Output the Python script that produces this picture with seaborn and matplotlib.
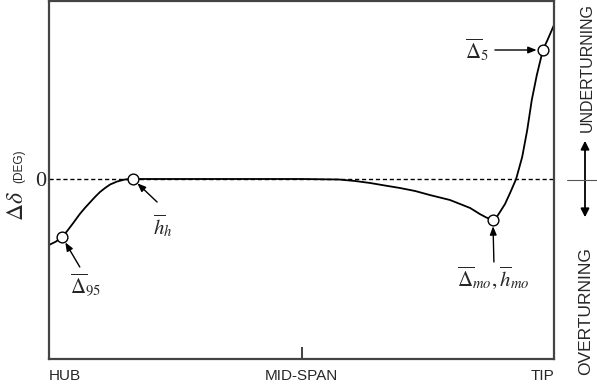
import numpy as np
import pandas as pd
import matplotlib
matplotlib.use("Agg")
import matplotlib.pyplot as plt
import seaborn as sns
from matplotlib.patches import FancyArrowPatch
from matplotlib.lines import Line2D

# span position (0 = hub, 1 = tip) and deviation delta (deg, schematic)
span = [0.000, 0.014, 0.026, 0.036, 0.048, 0.061, 0.071, 0.081, 0.091, 0.101, 0.111,
        0.121, 0.135, 0.150, 0.166, 0.300, 0.500, 0.574, 0.606, 0.636, 0.665, 0.695,
        0.725, 0.754, 0.794, 0.814, 0.834, 0.853, 0.866, 0.879, 0.886, 0.893, 0.903,
        0.913, 0.925, 0.937, 0.947, 0.956, 0.966, 0.978, 0.988, 1.000]
dev = [-6.6, -6.25, -5.8, -5.2, -4.4, -3.5, -2.9, -2.35, -1.8, -1.3, -0.9,
       -0.55, -0.25, -0.05, 0.0, 0.0, 0.0, -0.05, -0.2, -0.4, -0.65, -0.9,
       -1.2, -1.6, -2.1, -2.5, -2.9, -3.5, -3.85, -4.1, -3.85, -3.3, -2.5,
       -1.4, 0.0, 2.2, 4.9, 7.9, 10.4, 12.9, 14.0, 15.4]

# marked points
pt_names = ["d95", "hh", "dmo", "d5"]
pt_span = [0.026, 0.166, 0.879, 0.978]
pt_dev = [-5.8, 0.0, -4.1, 12.9]

pt_labels = [r"$\overline{\Delta}_{95}$", r"$\overline{h}_h$",
             r"$\overline{\Delta}_{mo},\overline{h}_{mo}$", r"$\overline{\Delta}_5$"]
label_pos = [(0.073, -10.6), (0.226, -4.7), (0.879, -9.9), (0.848, 12.9)]
arrow_tail = [(0.061, -8.8), (0.214, -2.3), (0.881, -8.3), (0.883, 12.9)]

xtick_pos = [0.0, 0.5, 1.0]
xtick_labels = ["HUB", "MID-SPAN", "TIP"]

sns.set_style("white")
plt.rcParams["font.family"] = ["Liberation Sans", "DejaVu Sans"]
plt.rcParams["mathtext.fontset"] = "stix"

df = pd.DataFrame({"span": span, "dev": dev})
pts = pd.DataFrame({"span": pt_span, "dev": pt_dev, "name": pt_names})

W, H = 597, 390
fig = plt.figure(figsize=(W / 100, H / 100), dpi=100)
ax = fig.add_axes([49 / W, 1 - 359 / H, (554 - 49) / W, (359 - 1) / H])

ax.axhline(0, color="black", lw=1.0, ls=(0, (3, 2)), zorder=1)
sns.lineplot(data=df, x="span", y="dev", color="black", lw=1.3, sort=False,
             estimator=None, ax=ax, zorder=2)
sns.scatterplot(data=pts, x="span", y="dev", marker="o", s=60, facecolor="white",
                edgecolor="black", linewidth=1.0, ax=ax, zorder=3)

for lab, (tx, ty), (ax0, ay0), px, py in zip(pt_labels, label_pos, arrow_tail, pt_span, pt_dev):
    ax.text(tx, ty, lab, fontsize=15, ha="center", va="center")
    ax.annotate("", xy=(px, py), xytext=(ax0, ay0),
                arrowprops=dict(arrowstyle="-|>,head_length=0.5,head_width=0.2",
                                color="black", lw=1.0, shrinkA=0, shrinkB=4.5))

ax.set_xlim(0, 1)
ax.set_ylim(-18.0, 17.8)
ax.set_xlabel("")
ax.set_ylabel("")
ax.set_xticks(xtick_pos)
ax.set_xticklabels(xtick_labels, fontsize=11)
tl = ax.get_xticklabels()
tl[0].set_ha("left")
tl[2].set_ha("right")
ax.tick_params(axis="x", bottom=True, direction="in", length=8.5, width=1.3, pad=7,
               color="#333333")
ax.set_yticks([0])
ax.set_yticklabels(["0"], fontsize=16, family="Liberation Serif")
ax.tick_params(axis="y", length=0, pad=2)
for s in ax.spines.values():
    s.set_visible(True)
    s.set_color("#444444")
    s.set_linewidth(1.6)

# y label
fig.text(17 / W, 1 - 206 / H, r"$\Delta\delta$", fontsize=17, rotation=90,
         ha="center", va="center")
fig.text(19 / W, 1 - 166 / H, "(DEG)", fontsize=8.5, rotation=90,
         ha="center", va="center")

# right-side direction legend
fig.add_artist(Line2D([567 / W, 1.0], [1 - 180 / H, 1 - 180 / H], color="#555555", lw=0.8))
fig.add_artist(FancyArrowPatch((585 / W, 1 - 220 / H), (585 / W, 1 - 138 / H),
                               transform=fig.transFigure,
                               arrowstyle="<|-|>,head_length=5,head_width=2.5",
                               color="black", lw=1.3))
fig.text(587 / W, 1 - 67 / H, "UNDERTURNING", fontsize=11.5, rotation=90,
         ha="center", va="center")
fig.text(586 / W, 1 - 311 / H, "OVERTURNING", fontsize=12.5, rotation=90,
         ha="center", va="center")

fig.savefig("out.png", dpi=100)
